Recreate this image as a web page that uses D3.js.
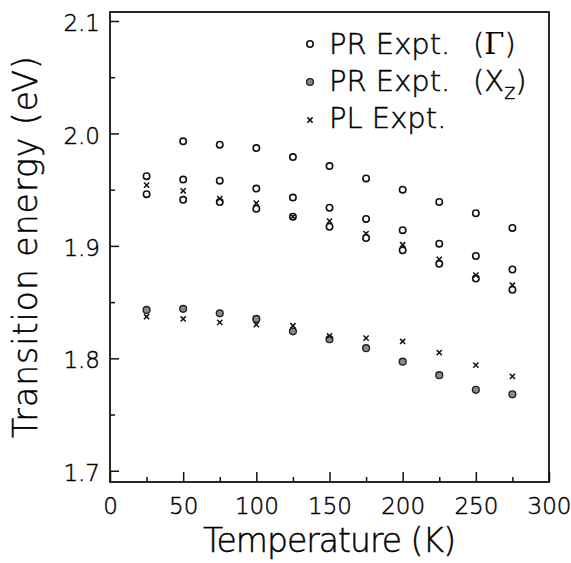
<!DOCTYPE html>
<html lang="en">
  <head>
    <meta charset="utf-8">
    <title>Transition energy vs temperature</title>
    <script src="https://d3js.org/d3.v7.js"></script>
    <style>
      html, body { margin: 0; padding: 0; background: #fff; overflow: hidden; }
      svg { display: block; }
      text { font-family: "DejaVu Sans", sans-serif; font-weight: 300; fill: #000;
             stroke: #000; stroke-width: 0.45; }
    </style>
  </head>

  <body>

  <script>

// Data

  var temps = [25, 50, 75, 100, 125, 150, 175, 200, 225, 250, 275];

  // PR Expt. (Gamma) - three branches of open circles
  var prGammaTop = [null, 1.993, 1.990, 1.987, 1.979, 1.971, 1.960, 1.950, 1.939, 1.929, 1.916];
  var prGammaMid = [1.962, 1.959, 1.958, 1.951, 1.943, 1.934, 1.924, 1.914, 1.902, 1.891, 1.879];
  var prGammaLow = [1.946, 1.941, 1.939, 1.933, 1.926, 1.917, 1.907, 1.896, 1.884, 1.871, 1.861];

  // PR Expt. (X_z) - filled circles
  var prXz = [1.843, 1.844, 1.840, 1.835, 1.824, 1.817, 1.809, 1.797, 1.785, 1.772, 1.768];

  // PL Expt. - crosses, upper and lower bands
  var plUpper = [1.954, 1.949, 1.942, 1.938, 1.926, 1.922, 1.911, 1.901, 1.888, 1.874, 1.865];
  var plLower = [1.837, 1.835, 1.832, 1.830, 1.829, 1.820, 1.818, 1.815, 1.805, 1.794, 1.784];

  var xTicks = [0, 50, 100, 150, 200, 250, 300];
  var xMinor = [25, 75, 125, 175, 225, 275];
  var yTicks = [1.7, 1.8, 1.9, 2.0, 2.1];
  var yMinor = [1.75, 1.85, 1.95, 2.05];

// Chart setup

  var w = 571;
  var h = 563;
  var margin = {top: 12, right: 22, bottom: 81, left: 110};
  var innerWidth = w - margin.left - margin.right;
  var innerHeight = h - margin.top - margin.bottom;

  var svg = d3.select("body")
    .append("svg")
      .attr("width", w)
      .attr("height", h);

  var xScale = d3.scaleLinear()
      .domain([0, 300])
      .range([0, innerWidth]);

  var yScale = d3.scaleLinear()
      .domain([1.69, 2.108])
      .range([innerHeight, 0]);

  var plot = svg.append("g")
      .attr("transform", `translate(${margin.left}, ${margin.top})`);

  // axes, ticks point inward
  plot.append("g")
      .attr("class", "yAxis")
      .call(d3.axisLeft(yScale).tickValues(yTicks).tickSize(-9)
        .tickPadding(10).tickFormat(d3.format(".1f")));

  plot.append("g")
      .attr("class", "yMinor")
      .call(d3.axisLeft(yScale).tickValues(yMinor).tickSize(-5).tickFormat(""));

  plot.append("g")
      .attr("class", "xAxis")
      .attr("transform", `translate(0, ${innerHeight})`)
      .call(d3.axisBottom(xScale).tickValues(xTicks).tickSize(-10)
        .tickPadding(16).tickFormat(d3.format("d")));

  plot.append("g")
      .attr("class", "xMinor")
      .attr("transform", `translate(0, ${innerHeight})`)
      .call(d3.axisBottom(xScale).tickValues(xMinor).tickSize(-5).tickFormat(""));

  plot.selectAll(".domain").remove();
  plot.selectAll(".yMinor text, .xMinor text").remove();
  plot.selectAll(".tick line")
      .attr("stroke", "#111")
      .attr("stroke-width", 1.5);
  plot.selectAll(".tick text")
      .attr("font-family", null)
      .attr("font-size", 23)
      .attr("fill", null);
  plot.selectAll(".yAxis .tick text").attr("dy", "0.42em");

  plot.append("rect")
      .attr("x", 0)
      .attr("y", 0)
      .attr("width", innerWidth)
      .attr("height", innerHeight)
      .attr("fill", "none")
      .attr("stroke", "#111")
      .attr("stroke-width", 1.8);

// Markers

  function pts(values) {
    return values.map((v, i) => ({t: temps[i], v: v})).filter(d => d.v != null);
  }

  var circleData = pts(prGammaTop).concat(pts(prGammaMid), pts(prGammaLow));
  var filledData = pts(prXz);
  var crossData = pts(plUpper).concat(pts(plLower));

  var cross = "M-2.6,-2.6L2.6,2.6M-2.6,2.6L2.6,-2.6";

  plot.append("g").selectAll("circle")
      .data(circleData)
    .enter().append("circle")
      .attr("cx", d => xScale(d.t))
      .attr("cy", d => yScale(d.v))
      .attr("r", 3.2)
      .attr("fill", "none")
      .attr("stroke", "#111")
      .attr("stroke-width", 1.6);

  plot.append("g").selectAll("circle")
      .data(filledData)
    .enter().append("circle")
      .attr("cx", d => xScale(d.t))
      .attr("cy", d => yScale(d.v))
      .attr("r", 3.4)
      .attr("fill", "#8a8a8a")
      .attr("stroke", "#222")
      .attr("stroke-width", 1.4);

  plot.append("g").selectAll("path")
      .data(crossData)
    .enter().append("path")
      .attr("transform", d => `translate(${xScale(d.t)}, ${yScale(d.v)})`)
      .attr("d", cross)
      .attr("stroke", "#111")
      .attr("stroke-width", 1.5);

// Axis titles

  svg.append("text")
      .attr("x", margin.left + innerWidth / 2)
      .attr("y", 552)
      .attr("text-anchor", "middle")
      .attr("font-size", 33)
      .attr("textLength", 253)
      .attr("lengthAdjust", "spacing")
      .text("Temperature (K)");

  svg.append("text")
      .attr("transform", `translate(37, ${margin.top + innerHeight / 2}) rotate(-90)`)
      .attr("text-anchor", "middle")
      .attr("font-size", 33)
      .attr("textLength", 382)
      .attr("lengthAdjust", "spacing")
      .text("Transition energy (eV)");

// Legend

  var legend = svg.append("g");

  var rowY = i => 44 + i * 38;

  legend.append("circle")
      .attr("cx", 310).attr("cy", rowY(0)).attr("r", 3.2)
      .attr("fill", "none").attr("stroke", "#111").attr("stroke-width", 1.6);
  legend.append("circle")
      .attr("cx", 310).attr("cy", rowY(1)).attr("r", 3.4)
      .attr("fill", "#8a8a8a").attr("stroke", "#222").attr("stroke-width", 1.4);
  legend.append("path")
      .attr("transform", `translate(310, ${rowY(2)})`)
      .attr("d", cross).attr("stroke", "#111").attr("stroke-width", 1.5);

  var t0 = legend.append("text").attr("x", 329).attr("y", rowY(0) + 10).attr("font-size", 29);
  t0.append("tspan").text("PR Expt.");
  t0.append("tspan").attr("x", 473).text("(");
  t0.append("tspan").style("font-family", "'DejaVu Serif', serif").style("font-weight", "normal")
      .style("stroke-width", 0).text("\u0393");
  t0.append("tspan").text(")");

  var t1 = legend.append("text").attr("x", 329).attr("y", rowY(1) + 9).attr("font-size", 29);
  t1.append("tspan").text("PR Expt.");
  t1.append("tspan").attr("x", 473).text("(X");
  t1.append("tspan").attr("font-size", 21).attr("dy", 8).text("z");
  t1.append("tspan").attr("dy", -8).text(")");

  var t2 = legend.append("text").attr("x", 329).attr("y", rowY(2) + 8).attr("font-size", 29);
  t2.append("tspan").text("PL Expt.");

    </script>

  </body>

</html>
